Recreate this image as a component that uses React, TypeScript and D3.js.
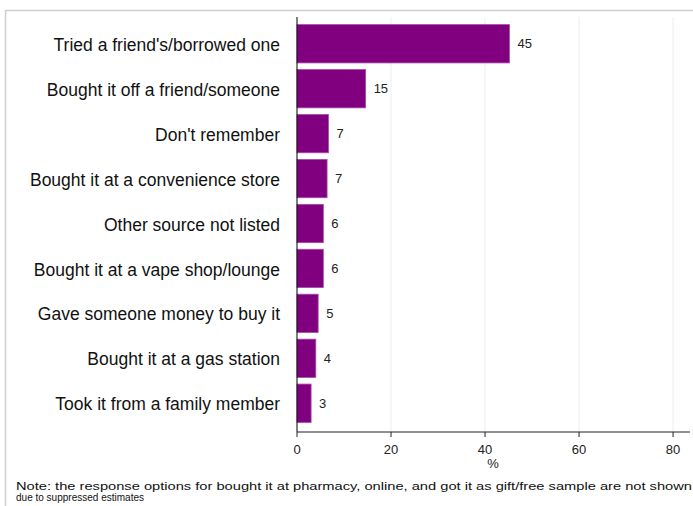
import React from "react";
import * as d3 from "d3";

const categories = [
  "Tried a friend's/borrowed one",
  "Bought it off a friend/someone",
  "Don't remember",
  "Bought it at a convenience store",
  "Other source not listed",
  "Bought it at a vape shop/lounge",
  "Gave someone money to buy it",
  "Bought it at a gas station",
  "Took it from a family member",
];
const values = [45.2, 14.6, 6.7, 6.4, 5.6, 5.6, 4.5, 4.0, 3.0];
const valueLabels = ["45", "15", "7", "7", "6", "6", "5", "4", "3"];
const xTicks = [0, 20, 40, 60, 80];
const xTitle = "%";
const noteLines = [
  "Note: the response options for bought it at pharmacy, online, and got it as gift/free sample are not shown",
  "due to suppressed estimates",
];

const W = 693;
const H = 506;
const FONT = "'Liberation Sans', Arial, Helvetica, sans-serif";

export default function App() {
  const x = d3.scaleLinear().domain([0, 83.6]).range([297, 690]);
  const y = d3
    .scaleBand<string>()
    .domain(categories)
    .range([21.3, 425.7])
    .paddingInner(0.147)
    .paddingOuter(0.0735);
  const axisY = 432;
  const plotTop = 17;

  return (
    <svg
      width={W}
      height={H}
      style={{ position: "absolute", left: 0, top: 0, background: "#fff" }}
      fontFamily={FONT}
    >
      <rect x={0} y={0} width={W} height={H} fill="#fff" />
      {/* panel border */}
      <path d={`M5.5,${H + 2} V10.5 H${W + 2}`} fill="none" stroke="#cfcfcf" strokeWidth={1.5} />
      {/* grid lines */}
      {xTicks
        .filter((t) => t > 0)
        .map((t) => (
          <line key={"g" + t} x1={x(t)} x2={x(t)} y1={plotTop} y2={axisY} stroke="#e9eef4" strokeWidth={1} />
        ))}
      {/* bars */}
      {categories.map((c, i) => (
        <g key={c}>
          <rect
            x={x(0)}
            y={y(c)!}
            width={x(values[i]) - x(0)}
            height={y.bandwidth()}
            fill="#800080"
            stroke="#a64ca6"
            strokeWidth={0.8}
          />
          <text
            x={x(values[i]) + 8}
            y={y(c)! + y.bandwidth() / 2}
            dy="0.35em"
            fontSize={13}
            fill="#222"
          >
            {valueLabels[i]}
          </text>
          <text
            x={280}
            y={y(c)! + y.bandwidth() / 2 + 1}
            dy="0.35em"
            fontSize={17.5}
            textAnchor="end"
            fill="#111"
          >
            {c}
          </text>
        </g>
      ))}
      {/* y axis */}
      <line x1={x(0)} x2={x(0)} y1={plotTop} y2={axisY} stroke="#000" strokeWidth={1} />
      {/* x axis */}
      <line x1={x(0)} x2={690} y1={axisY} y2={axisY} stroke="#222" strokeWidth={1} />
      {xTicks.map((t) => (
        <g key={"t" + t}>
          <line x1={x(t)} x2={x(t)} y1={axisY} y2={axisY + 5} stroke="#222" strokeWidth={1} />
          <text x={x(t)} y={axisY + 17} dy="0.35em" fontSize={13} textAnchor="middle" fill="#222">
            {t}
          </text>
        </g>
      ))}
      <text x={493} y={axisY + 31} dy="0.35em" fontSize={13} textAnchor="middle" fill="#222">
        {xTitle}
      </text>
      <text x={16} y={489.5} fontSize={11} fill="#111" textLength={676} lengthAdjust="spacingAndGlyphs">
        {noteLines[0]}
      </text>
      <text x={16} y={501} fontSize={11} fill="#111" textLength={128} lengthAdjust="spacingAndGlyphs">
        {noteLines[1]}
      </text>
    </svg>
  );
}
